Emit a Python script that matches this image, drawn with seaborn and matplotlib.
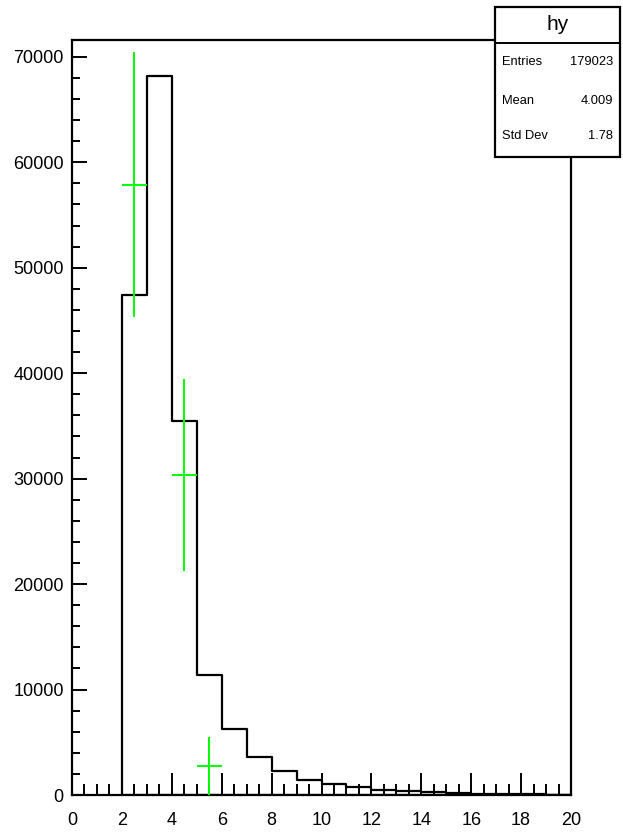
import numpy as np
import pandas as pd
import matplotlib
matplotlib.use("Agg")
import matplotlib.pyplot as plt
from matplotlib.ticker import MultipleLocator
import seaborn as sns

# histogram "hy": 1-wide bins from 2 to 20
bin_edges = [2, 3, 4, 5, 6, 7, 8, 9, 10, 11, 12, 13, 14, 15, 16, 17, 18, 19, 20]
bin_counts = [47400, 68200, 35450, 11380, 6260, 3600, 2270, 1450, 1010,
              730, 500, 350, 240, 170, 120, 80, 60, 40]

# green points with error bars
pt_x = [2.5, 4.5, 5.5]
pt_y = [57860, 30330, 2750]
pt_xerr = [0.5, 0.5, 0.5]
pt_yerr = [12570, 9090, 2720]

# stats box
stat_title = "hy"
stat_names = ["Entries", "Mean", "Std Dev"]
stat_values = ["179023", "4.009", "1.78"]

sns.set_style("ticks")
plt.rcParams["font.family"] = ["Liberation Sans", "DejaVu Sans"]
plt.rcParams["text.color"] = "black"
plt.rcParams["xtick.color"] = "black"
plt.rcParams["ytick.color"] = "black"

centers = [(a + b) / 2 for a, b in zip(bin_edges[:-1], bin_edges[1:])]
df = pd.DataFrame({"x": centers, "w": bin_counts})

fig = plt.figure(figsize=(6.23, 8.34), dpi=100)
ax = fig.add_axes([72 / 623, 39 / 834, 499 / 623, 755 / 834])

# filled step, then clear the face so the outline drops to zero at both ends
sns.histplot(data=df, x="x", weights="w", bins=bin_edges, element="step",
             fill=True, color="black", linewidth=1.6, ax=ax)
for c in ax.collections:
    c.set_facecolor("none")
    c.set_edgecolor("black")
    c.set_linewidth(1.6)

ax.errorbar(pt_x, pt_y, xerr=pt_xerr, yerr=pt_yerr, fmt="none",
            ecolor="#00ff00", elinewidth=1.4, capsize=0, zorder=4)

ax.set_xlim(0, 20)
ax.set_ylim(0, 71600)
ax.set_xlabel("")
ax.set_ylabel("")

ax.xaxis.set_major_locator(MultipleLocator(2))
ax.xaxis.set_minor_locator(MultipleLocator(0.5))
ax.yaxis.set_major_locator(MultipleLocator(10000))
ax.yaxis.set_minor_locator(MultipleLocator(2000))

ax.tick_params(axis="x", which="major", direction="in", length=16, width=1.4,
               labelsize=13, pad=12, top=False)
ax.tick_params(axis="x", which="minor", direction="in", length=8, width=1.4, top=False)
ax.tick_params(axis="y", which="major", direction="in", length=11, width=1.4,
               labelsize=13, pad=6, right=False)
ax.tick_params(axis="y", which="minor", direction="in", length=5.5, width=1.4, right=False)

for s in ax.spines.values():
    s.set_visible(True)
    s.set_linewidth(1.6)
    s.set_color("black")

# stats box drawn in figure coordinates
bx0, bx1 = 495 / 623, 620 / 623
by0, by1 = 1 - 157 / 834, 1 - 7 / 834
ydiv = 1 - 43 / 834
fig.patches.append(plt.Rectangle((bx0, by0), bx1 - bx0, by1 - by0,
                                 transform=fig.transFigure, facecolor="white",
                                 edgecolor="black", linewidth=1.6, zorder=5))
fig.lines.append(plt.Line2D([bx0, bx1], [ydiv, ydiv], transform=fig.transFigure,
                            color="black", linewidth=1.4, zorder=6))
fig.text((bx0 + bx1) / 2, 1 - 25 / 834, stat_title, ha="center", va="center",
         fontsize=15, zorder=7)
row_y = [62, 101, 136]
for name, val, ry in zip(stat_names, stat_values, row_y):
    fig.text(502 / 623, 1 - ry / 834, name, ha="left", va="center", fontsize=9.3, zorder=7)
    fig.text(613 / 623, 1 - ry / 834, val, ha="right", va="center", fontsize=9.3, zorder=7)

fig.savefig("out.png", dpi=100)
